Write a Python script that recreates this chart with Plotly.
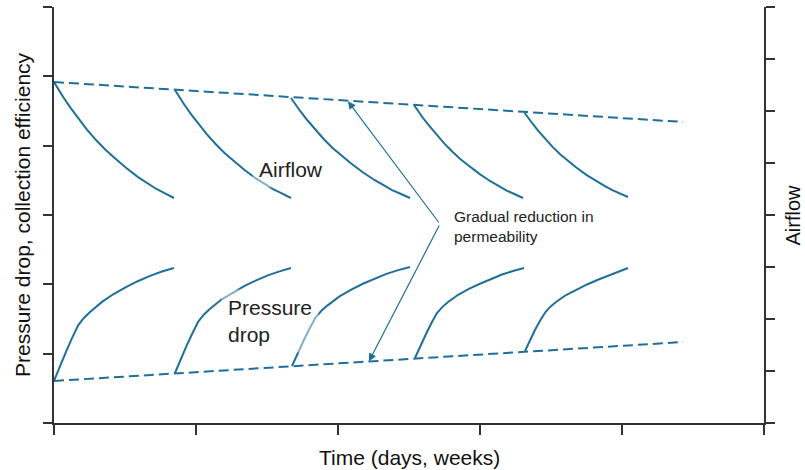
import plotly.graph_objects as go

# ---- data (x: time units, y: left-axis units) ----
airflow_x = [
    [0.000, 0.034, 0.068, 0.118, 0.169, 0.232, 0.296, 0.359, 0.423, 0.507, 0.592, 0.655, 0.718, 0.782, 0.845],
    [0.852, 0.885, 0.917, 0.966, 1.015, 1.077, 1.138, 1.199, 1.261, 1.342, 1.424, 1.485, 1.546, 1.608, 1.669],
    [1.669, 1.703, 1.736, 1.786, 1.837, 1.899, 1.962, 2.025, 2.088, 2.172, 2.256, 2.318, 2.381, 2.444, 2.507],
    [2.535, 2.566, 2.596, 2.643, 2.689, 2.746, 2.804, 2.861, 2.919, 2.996, 3.073, 3.130, 3.188, 3.245, 3.303],
    [3.310, 3.339, 3.369, 3.412, 3.456, 3.511, 3.566, 3.621, 3.676, 3.749, 3.822, 3.877, 3.932, 3.987, 4.042],
]
airflow_y = [
    [4.918, 4.801, 4.692, 4.542, 4.399, 4.232, 4.081, 3.948, 3.831, 3.680, 3.546, 3.462, 3.379, 3.312, 3.245],
    [4.803, 4.694, 4.593, 4.452, 4.320, 4.164, 4.024, 3.899, 3.790, 3.650, 3.525, 3.448, 3.370, 3.307, 3.245],
    [4.688, 4.587, 4.493, 4.363, 4.241, 4.096, 3.966, 3.851, 3.750, 3.620, 3.505, 3.433, 3.360, 3.303, 3.245],
    [4.587, 4.493, 4.406, 4.285, 4.171, 4.037, 3.916, 3.809, 3.715, 3.594, 3.487, 3.419, 3.352, 3.299, 3.245],
    [4.486, 4.400, 4.320, 4.210, 4.106, 3.983, 3.873, 3.775, 3.689, 3.579, 3.481, 3.419, 3.358, 3.309, 3.260],
]
pressure_x = [
    [0.000, 0.042, 0.085, 0.127, 0.169, 0.210, 0.254, 0.338, 0.420, 0.507, 0.590, 0.676, 0.760, 0.845],
    [0.852, 0.893, 0.934, 0.975, 1.016, 1.056, 1.097, 1.179, 1.260, 1.342, 1.424, 1.506, 1.588, 1.669],
    [1.676, 1.718, 1.759, 1.800, 1.842, 1.883, 1.925, 2.008, 2.090, 2.175, 2.258, 2.341, 2.424, 2.507],
    [2.542, 2.581, 2.620, 2.658, 2.697, 2.736, 2.775, 2.849, 2.925, 3.004, 3.080, 3.155, 3.232, 3.310],
    [3.317, 3.352, 3.387, 3.424, 3.461, 3.498, 3.535, 3.606, 3.680, 3.754, 3.826, 3.898, 3.970, 4.042],
]
pressure_y = [
    [0.606, 0.830, 1.030, 1.225, 1.405, 1.515, 1.600, 1.747, 1.860, 1.959, 2.045, 2.122, 2.185, 2.236],
    [0.721, 0.925, 1.115, 1.295, 1.464, 1.565, 1.644, 1.781, 1.885, 1.978, 2.058, 2.129, 2.187, 2.236],
    [0.822, 1.015, 1.193, 1.363, 1.522, 1.618, 1.693, 1.822, 1.920, 2.008, 2.083, 2.151, 2.205, 2.250],
    [0.938, 1.118, 1.284, 1.442, 1.587, 1.675, 1.745, 1.853, 1.937, 2.012, 2.080, 2.142, 2.192, 2.236],
    [1.039, 1.197, 1.341, 1.478, 1.601, 1.682, 1.745, 1.846, 1.925, 1.998, 2.062, 2.120, 2.180, 2.236],
]
trend_x = [0.0, 4.43]
upper_trend_y = [4.918, 4.342]
lower_trend_y = [0.606, 1.168]

arrow_origin = (2.718, 2.870)
arrow_targets = [(2.070, 4.640), (2.218, 0.890)]

x_ticks = [0, 1, 2, 3, 4, 5]
left_ticks = [0, 1, 2, 3, 4, 5, 6]
right_ticks = [0, 1, 2, 3, 4, 5, 6, 7, 8]

BLUE = "#1f6f98"
AXIS = "#333333"
FONT = "Liberation Sans, Arial, sans-serif"

fig = go.Figure()

for xs, ys in zip(airflow_x, airflow_y):
    fig.add_trace(go.Scatter(x=xs, y=ys, mode="lines", line=dict(color=BLUE, width=2),
                             showlegend=False, hoverinfo="skip"))
for xs, ys in zip(pressure_x, pressure_y):
    fig.add_trace(go.Scatter(x=xs, y=ys, mode="lines", line=dict(color=BLUE, width=2),
                             showlegend=False, hoverinfo="skip"))
for ys in (upper_trend_y, lower_trend_y):
    fig.add_trace(go.Scatter(x=trend_x, y=ys, mode="lines", line=dict(color=BLUE, width=2, dash="10px,5px"),
                             showlegend=False, hoverinfo="skip"))

# invisible trace to activate right axis
fig.add_trace(go.Scatter(x=[0], y=[0], yaxis="y2", mode="markers", marker=dict(opacity=0),
                         showlegend=False, hoverinfo="skip"))

for tx, ty in arrow_targets:
    fig.add_annotation(x=tx, y=ty, ax=arrow_origin[0], ay=arrow_origin[1], axref="x", ayref="y",
                       xref="x", yref="y", text="", showarrow=True, arrowhead=2, arrowsize=1.3,
                       arrowwidth=1.2, arrowcolor=BLUE)

fig.add_annotation(x=2.803, y=2.84, xref="x", yref="y", text="Gradual reduction in<br>permeability",
                   showarrow=False, xanchor="left", yanchor="middle", align="left",
                   font=dict(family=FONT, size=15.5, color="#222"))
fig.add_annotation(x=1.394, y=3.66, xref="x", yref="y", text="Airflow", showarrow=False,
                   xanchor="left", yanchor="middle", font=dict(family=FONT, size=21, color="#222"),
                   bgcolor="rgba(255,255,255,0.45)", borderpad=6)
fig.add_annotation(x=1.176, y=1.465, xref="x", yref="y", text="Pressure<br>drop", showarrow=False,
                   xanchor="left", yanchor="middle", align="left",
                   font=dict(family=FONT, size=21, color="#222"),
                   bgcolor="rgba(255,255,255,0.45)", borderpad=6)

# axis titles
fig.add_annotation(x=-0.045, y=0.5, xref="paper", yref="paper", text="Pressure drop, collection efficiency",
                   showarrow=False, textangle=-90, xanchor="center", yanchor="middle",
                   font=dict(family=FONT, size=21, color="#111"))
fig.add_annotation(x=1.0415, y=0.5, xref="paper", yref="paper", text="Airflow",
                   showarrow=False, textangle=-90, xanchor="center", yanchor="middle",
                   font=dict(family=FONT, size=20, color="#111"))
fig.add_annotation(x=0.5, y=-0.082, xref="paper", yref="paper", text="Time (days, weeks)",
                   showarrow=False, xanchor="center", yanchor="middle",
                   font=dict(family=FONT, size=21, color="#111"))

axis_common = dict(showticklabels=False, ticks="outside", tickwidth=1.5, tickcolor=AXIS,
                   showline=True, linecolor=AXIS, linewidth=1.5, showgrid=False, zeroline=False,
                   automargin=False)

fig.update_layout(
    width=805, height=470,
    margin=dict(l=54, r=41, t=7, b=47, autoexpand=False),
    plot_bgcolor="white", paper_bgcolor="white",
    xaxis=dict(range=[0, 5], tickvals=x_ticks, ticklen=10, **axis_common),
    yaxis=dict(range=[0, 6], tickvals=left_ticks, ticklen=9, **axis_common),
    yaxis2=dict(range=[0, 8], tickvals=right_ticks, ticklen=9, overlaying="y", side="right", **axis_common),
)

fig.write_html("out.html", config={"displayModeBar": False},
               post_script="document.body.style.margin='0';document.body.style.overflow='hidden';")
